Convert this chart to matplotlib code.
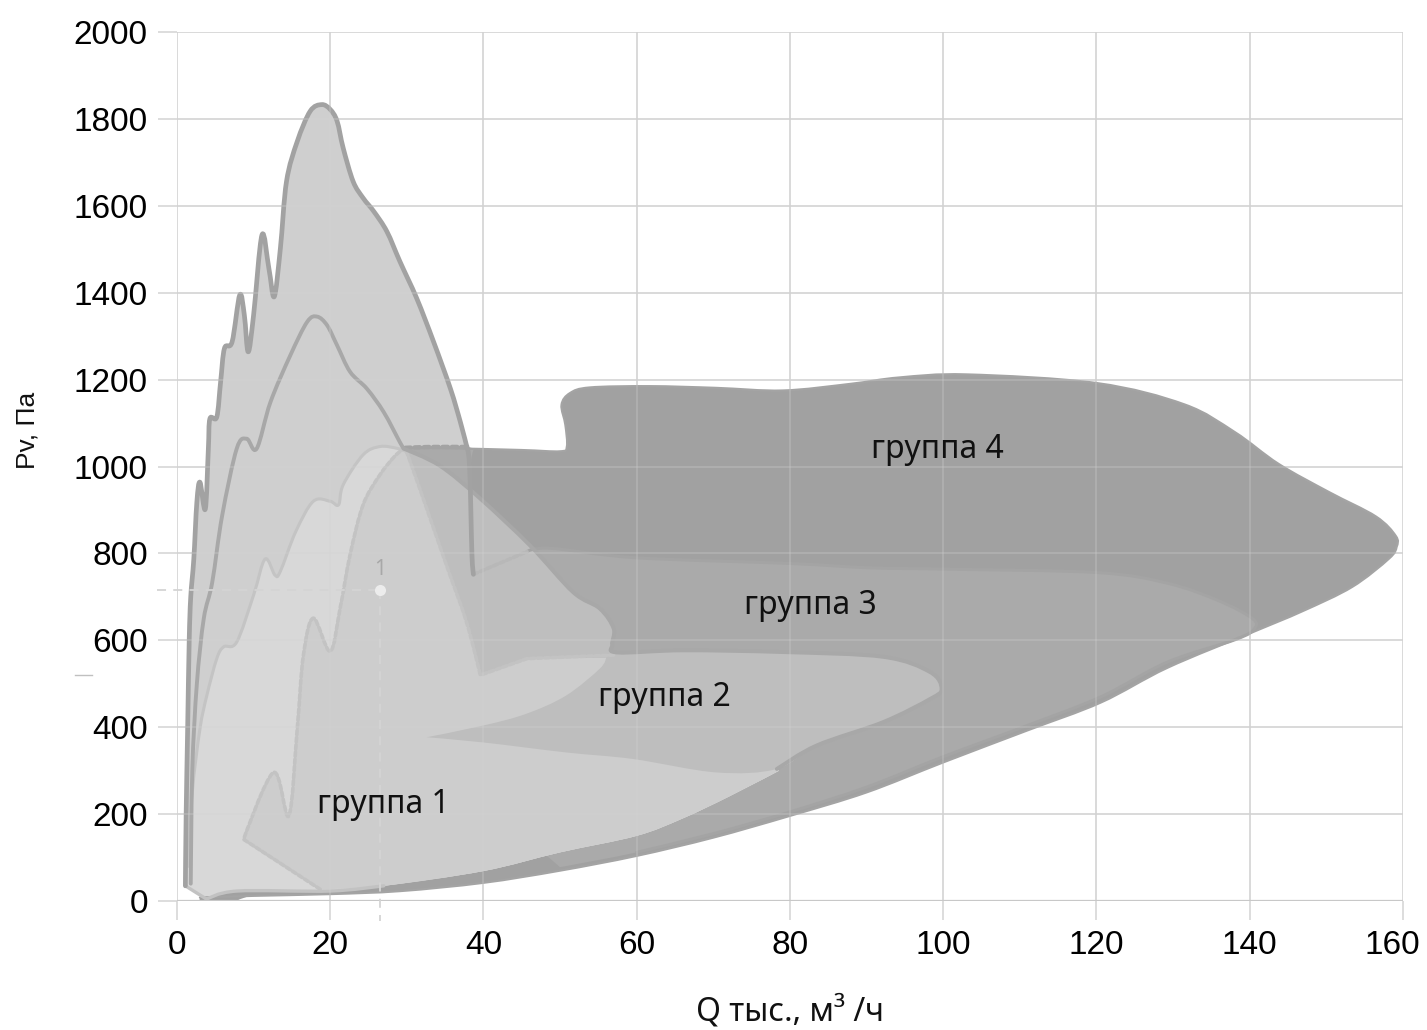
import matplotlib
matplotlib.use("Agg")
import matplotlib.pyplot as plt
import numpy as np
from matplotlib.path import Path
from matplotlib.patches import PathPatch
from matplotlib.transforms import ScaledTranslation

# axis ticks
X_TICKS = [0, 20, 40, 60, 80, 100, 120, 140, 160]
Y_TICKS = [0, 200, 400, 600, 800, 1000, 1200, 1400, 1600, 1800, 2000]

# group 4 (outer, darkest)
G4_X = [3, 10, 20, 29.2, 40, 50, 60, 70, 80, 90, 100, 110.9, 120.6, 129.3, 140.3, 146.9, 153.4,
        158.2, 159.2, 159.1, 156.5, 150.4, 143.8, 138.1, 131.5, 120.1, 103.1, 94.3, 87.8, 79.1,
        70.4, 61.7, 53.9, 51.3, 50.2, 50.7, 50.9, 50.0, 45.0, 35.7, 29.6, 15.0]
G4_Y = [8, 12, 16, 23, 42, 70, 104, 146, 196, 250, 319, 392, 457, 537, 618, 667, 723,
        788, 815, 840, 885, 941, 1006, 1079, 1143, 1192, 1212, 1205, 1190, 1175,
        1181, 1185, 1182, 1169, 1142, 1096, 1046, 1035, 1038, 1042, 1043, 500]

# group 3 band
G3_X = [29.8, 38.0, 38.4, 38.6, 45.7, 48.7, 60, 80, 90.4, 100, 120.2, 129.4, 136, 140.4, 140.6,
        138.2, 129.3, 120.6, 111, 100, 90, 80, 70, 60, 50, 42, 37]
G3_Y = [1043, 1045, 1000, 760, 804, 812, 790, 777, 767, 764, 756, 731, 691, 650, 626,
        602, 550, 470, 404, 332, 262, 205, 155, 112, 78, 200, 400]

# tall peak outline (left edge, peak, right edge)
PEAK_X = [1.1, 1.2, 1.4, 1.6, 1.8, 2.2, 2.6, 3.0, 3.7, 4.1, 4.3, 5.2, 5.7, 6.2, 7.2, 8.2, 8.8, 9.3,
          10.0, 11.1, 12.0, 12.7, 13.5, 14.3, 15.7, 17.4, 18.9, 20.0, 20.9, 21.7, 23.0, 24.3,
          25.7, 27.4, 29.1, 31.3, 33.5, 35.7, 37.0, 37.8]
PEAK_Y = [35, 200, 400, 600, 700, 787, 918, 964, 902, 1041, 1110, 1114, 1195, 1272, 1287, 1395, 1348, 1264,
          1348, 1533, 1456, 1391, 1502, 1656, 1748, 1818, 1833, 1822, 1795, 1733, 1656, 1618,
          1587, 1541, 1472, 1387, 1287, 1179, 1102, 1048]
PEAK_DROP_X = [37.8, 38.2, 38.5, 38.7]
PEAK_DROP_Y = [1048, 1000, 800, 752]

# plateau top and dashed right edge of the 1040 shape
PLATEAU_X = [29.8, 33.0, 37.6]
PLATEAU_Y = [1043, 1045, 1045]
DASH_B_X = [29.8, 31.7, 35.2, 37.8, 39.6, 45.7, 57.0]
DASH_B_Y = [1043, 949, 772, 642, 520, 558, 566]

# lower edge of group 1 (light) area
G1_LOW_X = [78.6, 72, 66, 60, 50, 40, 27, 20, 7.8, 3.9, 1.1]
G1_LOW_Y = [300, 240, 190, 150, 112, 69, 35, 23, 23, 4, 35]

# light curve (peak ~1045)
C1_X = [1.5, 2.0, 3.0, 3.9, 5.2, 6.1, 7.8, 10.0, 11.5, 12.8, 13.5, 15.5, 17.8, 20.0, 21.1, 21.7,
        24.3, 26.5, 28.7, 30.0]
C1_Y = [80, 250, 396, 473, 558, 585, 596, 704, 787, 750, 759, 850, 920, 920, 912, 958,
        1027, 1046, 1042, 1034]

# dashed mountain (left part)
D_X = [18.7, 8.7, 12.6, 14.6, 15.7, 16.5, 17.8, 20.0, 21.3, 22.6, 24.3, 26.5, 28.5]
D_Y = [27, 142, 296, 196, 396, 565, 651, 575, 674, 797, 912, 981, 1025]

# curve with peak 1340 (left part)
P1340_X = [1.8, 2.0, 2.6, 3.5, 4.6, 5.9, 7.8, 9.1, 10.4, 12.2, 14.8, 17.0, 18.3, 19.6, 20.9, 22.6,
           24.8, 27.0, 29.1]
P1340_Y = [40, 300, 500, 650, 733, 887, 1041, 1064, 1041, 1148, 1256, 1333, 1345, 1325, 1279, 1218,
           1179, 1125, 1056]

# group 2: right part of 1340 curve, band, wedge
G2_X = [29.6, 34.3, 39.6, 46.1, 51.7, 55.2, 57.0, 56.8, 57.5, 66.1, 79.1, 92.2, 98.3, 99.8, 98.3,
        92.2, 83.5, 78.3, 70.4, 59.5, 50.8, 40.0, 32.6, 40.0, 45.6, 50.8, 55.2, 56.0]
G2_Y = [1041, 1002, 926, 818, 711, 673, 627, 590, 572, 577, 573, 562, 527, 488, 465,
        412, 358, 304, 296, 327, 342, 365, 377, 404, 431, 473, 535, 560]

# points where outlines turn sharply
SHARP = {(78.6, 300), (32.6, 377), (29.8, 1043), (57.0, 566), (56.0, 560), (45.7, 558),
         (39.6, 520), (3.9, 4), (1.1, 35), (18.7, 27), (8.7, 142), (42, 200), (50, 78),
         (38.7, 752), (45.7, 804), (29.6, 1041), (37.8, 1048)}

# operating point
POINT_X = 26.5
POINT_Y = 716
POINT_LABEL = "1"

GROUP_LABELS = ["группа 1", "группа 2", "группа 3", "группа 4"]
GROUP_LABEL_X = [26.9, 63.6, 82.7, 99.2]
GROUP_LABEL_Y = [223, 469, 681, 1040]

SANS = ["Noto Sans", "DejaVu Sans"]


def smooth_path(xs, ys, closed=False):
    # Catmull-Rom curve through the given points, drawn as cubic Bezier segments
    pts = np.column_stack([xs, ys]).astype(float)
    n = len(pts)
    sharp = [(float(x), float(y)) in SHARP for x, y in zip(xs, ys)]
    tang = []
    for i in range(n):
        if sharp[i]:
            tang.append(np.zeros(2))
            continue
        a = pts[i - 1] if (closed or i > 0) else pts[i]
        b = pts[(i + 1) % n] if (closed or i < n - 1) else pts[i]
        tang.append((b - a) / 6.0)
    verts = [pts[0]]
    codes = [Path.MOVETO]
    last = n if closed else n - 1
    for i in range(last):
        j = (i + 1) % n
        verts += [pts[i] + tang[i], pts[j] - tang[j], pts[j]]
        codes += [Path.CURVE4] * 3
    if closed:
        verts.append(pts[0])
        codes.append(Path.CLOSEPOLY)
    return Path(verts, codes)


def area(ax, xs, ys, color, z):
    ax.add_patch(PathPatch(smooth_path(xs, ys, closed=True), facecolor=color, lw=0, zorder=z))


def curve(ax, xs, ys, color, lw, z, ls="-"):
    ax.add_patch(PathPatch(smooth_path(xs, ys), fill=False, edgecolor=color, lw=lw, ls=ls,
                           zorder=z, joinstyle="round", capstyle="round"))


fig = plt.figure(figsize=(14.27, 10.30), dpi=100)
ax = fig.add_axes([0.124, 0.1252, 0.859, 0.8437])
ax.set_xlim(0, 160)
ax.set_ylim(0, 2000)

# fills, back to front
area(ax, G4_X, G4_Y, "#a1a1a1", 1)
area(ax, G3_X, G3_Y, "#aaaaaa", 1.1)
area(ax, PEAK_X + [33.0] + DASH_B_X + G1_LOW_X, PEAK_Y + [1045] + DASH_B_Y + G1_LOW_Y, "#cfcfcf", 1.2)
area(ax, C1_X + DASH_B_X + G1_LOW_X, C1_Y + DASH_B_Y + G1_LOW_Y, "#d8d8d8", 1.3)
area(ax, D_X + DASH_B_X + G1_LOW_X[:7], D_Y + DASH_B_Y + G1_LOW_Y[:7], "#cdcdcd", 1.4)
area(ax, G2_X + DASH_B_X[::-1][1:-1], G2_Y + DASH_B_Y[::-1][1:-1], "#bebebe", 1.5)

# grid below and a faint copy above the fills
for v in X_TICKS:
    ax.axvline(v, color="#d3d3d3", lw=1.1, zorder=0)
    ax.axvline(v, color="#d3d3d3", lw=1.1, alpha=0.35, zorder=3)
for v in Y_TICKS:
    ax.axhline(v, color="#d3d3d3", lw=1.1, zorder=0)
    ax.axhline(v, color="#d3d3d3", lw=1.1, alpha=0.35, zorder=3)
ax.axhline(0, color="#c8c8c8", lw=1.6, zorder=3)

# outlines
curve(ax, G4_X[:-1], G4_Y[:-1], "#a4a4a4", 1.6, 2)
curve(ax, G3_X[4:-3], G3_Y[4:-3], "#a4a4a4", 2.2, 2)
curve(ax, C1_X, C1_Y, "#c4c4c4", 2.2, 2.1)
curve(ax, D_X + DASH_B_X, D_Y + DASH_B_Y, "#c3c3c3", 2.6, 2.1, ls=(0, (1.2, 0.8)))
curve(ax, [PEAK_DROP_X[-1], 45.7], [PEAK_DROP_Y[-1], 804], "#b8b8b8", 2.6, 2.1, ls=(0, (1.2, 0.8)))
curve(ax, PLATEAU_X, PLATEAU_Y, "#a3a3a3", 3.2, 2.2, ls=(0, (1.2, 0.9)))
curve(ax, P1340_X + G2_X[:18], P1340_Y + G2_Y[:18], "#a8a8a8", 2.8, 2.2)
curve(ax, G1_LOW_X[-5:], G1_LOW_Y[-5:], "#c2c2c2", 2.4, 2.1)
curve(ax, PEAK_X + PEAK_DROP_X[1:], PEAK_Y + PEAK_DROP_Y[1:], "#a2a2a2", 3.4, 2.3)

# operating point with dashed guides
ax.plot([-2.6, POINT_X], [POINT_Y, POINT_Y], color="#d4d4d4", lw=1.3, ls=(0, (5, 4)), zorder=4, clip_on=False)
ax.plot([POINT_X, POINT_X], [POINT_Y, -45], color="#d4d4d4", lw=1.3, ls=(0, (5, 4)), zorder=4, clip_on=False)
ax.plot([POINT_X], [POINT_Y], "o", ms=8, color="#ececec", mec="none", zorder=4.5)
ax.text(POINT_X, POINT_Y + 22, POINT_LABEL, ha="center", va="bottom", fontsize=15,
        color="#a8a8a8", family=SANS, fontweight="light", zorder=4.5)
ax.plot([-13.3, -11.1], [520, 520], color="#c0c0c0", lw=1.0, clip_on=False)

for label, lx, ly in zip(GROUP_LABELS, GROUP_LABEL_X, GROUP_LABEL_Y):
    ax.text(lx, ly, label, ha="center", va="center", fontsize=23, color="#111111",
            family=SANS, zorder=6)

ax.set_xticks(X_TICKS)
ax.set_yticks(Y_TICKS)
ax.tick_params(length=14, width=1.1, color="#d3d3d3", labelsize=24, pad=7)
for lab in ax.get_xticklabels() + ax.get_yticklabels():
    lab.set_family("Liberation Sans")
last = ax.get_xticklabels()[-1]
last.set_transform(last.get_transform() + ScaledTranslation(-10 / 100, 0, fig.dpi_scale_trans))
for s in ax.spines.values():
    s.set_visible(False)

ax.set_xlabel("Q тыс., м³ /ч", fontsize=23, family=SANS, color="#111111")
ax.xaxis.set_label_coords(0.5, -0.1277)
ax.xaxis.label.set_va("center")
ax.set_ylabel("Pv, Па", fontsize=19, family="Liberation Sans", color="#111111")
ax.yaxis.set_label_coords(-0.122, 0.542)
ax.yaxis.label.set_va("center")

fig.savefig("out.png", dpi=100)
